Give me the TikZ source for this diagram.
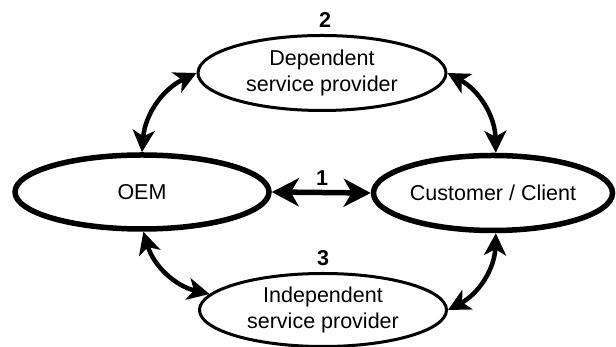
\documentclass[tikz,border=0pt]{standalone}
\usepackage{fontspec}
\setmainfont{Liberation Sans}
\usetikzlibrary{shapes.geometric,arrows.meta}
\begin{document}
\begin{tikzpicture}[x=1pt,y=1pt,
  font=\fontsize{21.5}{26}\selectfont,
  bigell/.style={ellipse,draw,line width=5.5pt,inner sep=0pt,align=center},
  smallell/.style={ellipse,draw,line width=3pt,inner sep=0pt,align=center},
  numlbl/.style={font=\fontsize{21.5}{26}\selectfont\bfseries,inner sep=0pt},
  link/.style={line width=4.5pt,{Stealth[length=22pt,width=22pt,inset=6pt]}-{Stealth[length=22pt,width=22pt,inset=6pt]}},
  mainlink/.style={line width=5.5pt,{Stealth[length=27pt,width=28pt,inset=8pt]}-{Stealth[length=27pt,width=28pt,inset=8pt]}}]
\useasboundingbox (0,0) rectangle (616,347);
\node[bigell,minimum width=254pt,minimum height=74pt] (oem) at (142,155) {OEM};
\node[bigell,minimum width=239pt,minimum height=75pt] (cust) at (493,154) {Customer / Client};
\node[smallell,minimum width=248pt,minimum height=75pt] (dep) at (322,274) {Dependent\\service provider};
\node[smallell,minimum width=247pt,minimum height=73pt] (ind) at (323,37) {Independent\\service provider};
\node[numlbl] (n1) at (322,169) {1};
\node[numlbl] (n2) at (325,327) {2};
\node[numlbl] (n3) at (323,89) {3};
\draw[mainlink] (oem.east) -- (cust.west);
\draw[link] (oem.north) to[bend left=30] (dep.west);
\draw[link] (cust.86) to[bend right=30] (dep.east);
\draw[link] (oem.-88) to[bend right=30] (ind.172);
\draw[link] (cust.-86) to[bend left=30] (ind.east);
\end{tikzpicture}
\end{document}
